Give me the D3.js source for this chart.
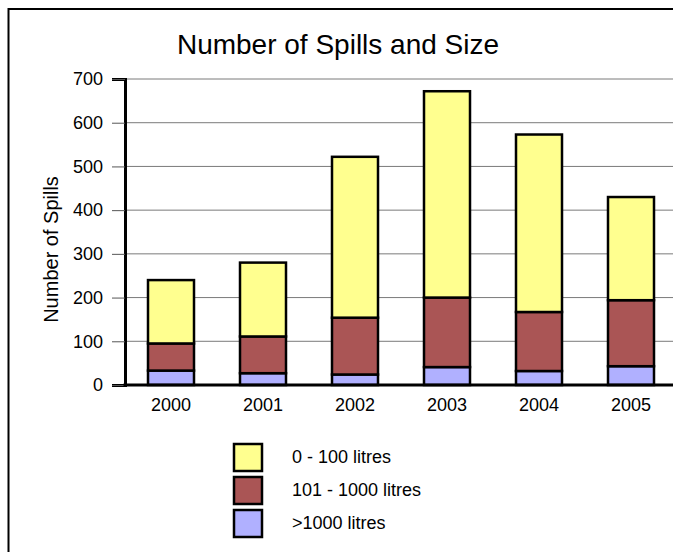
<!DOCTYPE html>
<html>
<head>
<meta charset="utf-8">
<script src="https://cdn.jsdelivr.net/npm/d3@7"></script>
<style>
  body { margin: 0; background: #fff; }
  svg { display: block; font-family: "Liberation Sans", Arial, sans-serif; }
</style>
</head>
<body>
<div id="chart"></div>
<script>
// --- data ---
const years = ["2000", "2001", "2002", "2003", "2004", "2005"];
const seriesNames = ["0 - 100 litres", "101 - 1000 litres", ">1000 litres"];
const small = [145, 169, 368, 472, 406, 236];   // 0 - 100 litres
const medium = [62, 84, 130, 159, 135, 151];    // 101 - 1000 litres
const large = [33, 27, 24, 41, 32, 43];         // >1000 litres
const yTicks = [0, 100, 200, 300, 400, 500, 600, 700];
const colors = ["#ffff8f", "#aa5555", "#b0b0ff"];

const width = 673, height = 552;
const font = "Liberation Sans, Arial, sans-serif";
const svg = d3.select("#chart").append("svg")
  .attr("width", width)
  .attr("height", height);

// outer frame: only left and top edges are visible in the picture
svg.append("path")
  .attr("d", `M8.5,${height} L8.5,9 L${width},9`)
  .attr("fill", "none")
  .attr("stroke", "#000")
  .attr("stroke-width", 2);

const margin = { top: 79, left: 125 };
const innerHeight = 306;
const step = 92;

const x = d3.scaleBand()
  .domain(years)
  .range([margin.left, margin.left + step * years.length])
  .paddingInner(0.5)
  .paddingOuter(0.25);

const y = d3.scaleLinear()
  .domain([0, 700])
  .range([margin.top + innerHeight, margin.top]);

// gridlines
svg.append("g")
  .selectAll("line")
  .data(yTicks.slice(1))
  .join("line")
  .attr("x1", margin.left).attr("x2", width)
  .attr("y1", d => y(d)).attr("y2", d => y(d))
  .attr("stroke", "#7a7a7a")
  .attr("stroke-width", 1);

// y axis
const yAxis = svg.append("g")
  .attr("transform", `translate(${margin.left},0)`)
  .call(d3.axisLeft(y).tickValues(yTicks).tickSize(13).tickPadding(9))
  .attr("font-size", 18)
  .attr("font-family", font);
yAxis.select(".domain").attr("stroke", "#000").attr("stroke-width", 3);
yAxis.selectAll(".tick line").attr("stroke", "#555").attr("stroke-width", 1);
yAxis.selectAll(".tick text").attr("fill", "#000");

// stacked bars
const rows = years.map((yr, i) => ({ year: yr, s0: small[i], s1: medium[i], s2: large[i] }));
const stack = d3.stack().keys(["s2", "s1", "s0"]);
const layers = stack(rows);
const colorOf = { s0: colors[0], s1: colors[1], s2: colors[2] };

svg.append("g")
  .selectAll("g")
  .data(layers)
  .join("g")
  .attr("fill", d => colorOf[d.key])
  .selectAll("rect")
  .data(d => d)
  .join("rect")
  .attr("x", d => x(d.data.year))
  .attr("y", d => y(d[1]))
  .attr("width", x.bandwidth())
  .attr("height", d => y(d[0]) - y(d[1]))
  .attr("stroke", "#000")
  .attr("stroke-width", 2.5);

// x axis
const xAxis = svg.append("g")
  .attr("transform", `translate(0,${margin.top + innerHeight})`)
  .call(d3.axisBottom(x).tickSize(0).tickPadding(13))
  .attr("font-size", 18)
  .attr("font-family", font);
xAxis.select(".domain").remove();
xAxis.selectAll(".tick text").attr("fill", "#000");
svg.append("line")
  .attr("x1", margin.left - 1.5).attr("x2", width)
  .attr("y1", y(0)).attr("y2", y(0))
  .attr("stroke", "#000")
  .attr("stroke-width", 3);

// title
svg.append("text")
  .attr("x", 338).attr("y", 54)
  .attr("text-anchor", "middle")
  .attr("font-size", 28)
  .text("Number of Spills and Size");

// y axis title
svg.append("text")
  .attr("transform", `translate(58,${y(310)}) rotate(-90)`)
  .attr("text-anchor", "middle")
  .attr("font-size", 20)
  .text("Number of Spills");

// legend
const legend = svg.append("g").attr("transform", "translate(234,444)");
legend.selectAll("rect")
  .data(seriesNames)
  .join("rect")
  .attr("x", 0)
  .attr("y", (d, i) => i * 33)
  .attr("width", 28)
  .attr("height", 27)
  .attr("fill", (d, i) => colors[i])
  .attr("stroke", "#000")
  .attr("stroke-width", 2.5);
legend.selectAll("text")
  .data(seriesNames)
  .join("text")
  .attr("x", 58)
  .attr("y", (d, i) => i * 33 + 19)
  .attr("font-size", 18)
  .text(d => d);
</script>
</body>
</html>
